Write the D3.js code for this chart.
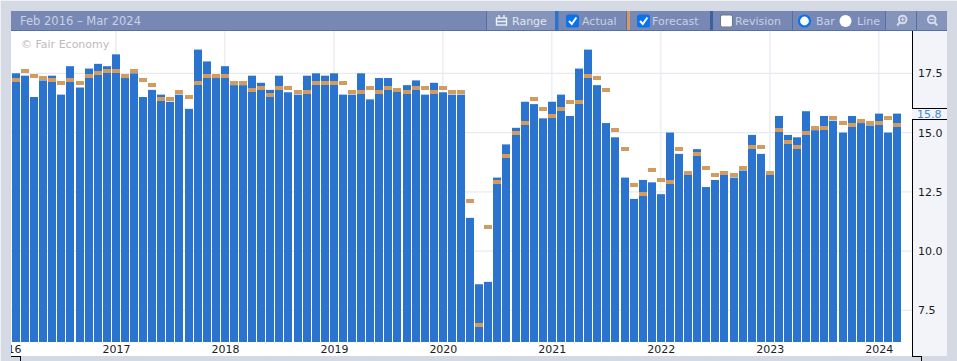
<!DOCTYPE html>
<html>
<head>
<meta charset="utf-8">
<script src="https://d3js.org/d3.v7.min.js"></script>
<style>
    html, body { margin: 0; padding: 0; background: #d5d9e3; overflow: hidden; }
    svg { display: block; }
    text { font-family: "DejaVu Sans", sans-serif; font-size: 11px; }
    .head { fill: #c9d1e5; }
</style>
</head>
<body>
<div id="chart"></div>
<script>
// one entry per month, Feb 2016 to Mar 2024
const actual = [
    17.5, 17.4, 16.5, 17.2, 17.4, 16.6, 17.8, 16.9, 17.7, 17.9, 17.8, 18.3, 17.3, 17.5,
    16.5, 16.8, 16.6, 16.3, 16.6, 16.0, 18.5, 18.0, 17.3, 17.8, 17.0, 17.0, 17.4, 17.1,
    16.8, 17.4, 16.7, 16.6, 17.4, 17.5, 17.4, 17.5, 16.6, 16.6, 17.5, 16.4, 17.3, 17.3,
    16.8, 17.0, 17.2, 16.6, 17.1, 16.7, 16.6, 16.6, 11.4, 8.6, 8.7, 13.1, 14.5, 15.2,
    16.3, 16.2, 15.6, 16.3, 16.6, 15.7, 17.7, 18.5, 17.0, 15.4, 14.8, 13.1, 12.2, 13.0,
    12.9, 12.4, 15.0, 14.1, 13.3, 14.3, 12.7, 13.0, 13.3, 13.1, 13.4, 14.9, 14.1, 13.3,
    15.7, 14.9, 14.8, 15.9, 15.1, 15.7, 15.5, 15.0, 15.7, 15.4, 15.3, 15.8, 15.0, 15.8
];
const forecast = [
    17.2, 17.6, 17.4, 17.3, 17.2, 17.1, 17.2, 17.1, 17.4, 17.5, 17.6, 17.6, 17.4, 17.6,
    17.2, 17.0, 16.4, 16.4, 16.7, 16.5, 17.1, 17.4, 17.4, 17.4, 17.1, 17.1, 16.8, 16.9,
    16.6, 16.9, 16.9, 16.7, 16.7, 17.1, 17.1, 17.1, 17.1, 16.7, 16.7, 16.9, 16.7, 16.9,
    16.8, 16.7, 16.9, 16.9, 16.7, 16.9, 16.7, 16.7, 12.1, 6.9, 11.0, 12.9, 14.0, 15.0,
    15.4, 16.4, 16.0, 15.7, 16.0, 16.3, 16.3, 17.4, 17.3, 16.8, 15.1, 14.3, 12.8, 12.4,
    13.4, 13.0, 12.9, 14.3, 13.3, 14.1, 13.5, 13.2, 13.3, 13.2, 13.5, 14.4, 14.4, 13.3,
    15.1, 14.6, 14.4, 15.0, 15.2, 15.2, 15.6, 15.4, 15.3, 15.5, 15.4, 15.4, 15.6, 15.3
];
const yearLabels = ['2016', '2017', '2018', '2019', '2020', '2021', '2022', '2023', '2024'];
const yearMonths = [-1, 11, 23, 35, 47, 59, 71, 83, 95]; // month index of each January
const valueTicks = [7.5, 10, 12.5, 15, 17.5];
const lastValue = 15.8;

const width = 957, height = 361;
const plotLeft = 11, plotRight = 912, plotTop = 31, plotBottom = 342, frameBottom = 356, frameRight = 947;

const svg = d3.select('#chart').append('svg').attr('width', width).attr('height', height);

const months = d3.range(actual.length);
const x = d3.scaleLinear().domain([0, 97]).range([16, 897]);
const y = d3.scaleLinear().domain([7.5, 17.5]).range([310.3, 73.3]);

// page edge and plot background
svg.append('rect').attr('width', width).attr('height', 1).attr('fill', '#eef0f4');
svg.append('rect').attr('width', 1).attr('height', height).attr('fill', '#eef0f4');
svg.append('rect').attr('x', plotLeft).attr('y', plotTop).attr('width', plotRight - plotLeft).attr('height', frameBottom - plotTop).attr('fill', '#fff');
svg.append('rect').attr('x', plotRight).attr('y', plotTop).attr('width', frameRight - plotRight).attr('height', frameBottom - plotTop).attr('fill', '#f3f4fa');

svg.append('defs').append('clipPath').attr('id', 'plot-clip')
    .append('rect').attr('x', plotLeft).attr('y', plotTop).attr('width', plotRight - plotLeft).attr('height', frameBottom - plotTop);

// grid
const grid = svg.append('g').attr('stroke', '#e8e9f2').attr('stroke-width', 1.2);
grid.selectAll('.gx').data(yearMonths.slice(1)).enter().append('line')
    .attr('x1', d => x(d)).attr('x2', d => x(d))
    .attr('y1', plotTop).attr('y2', plotBottom);
grid.selectAll('.gy').data(valueTicks).enter().append('line')
    .attr('x1', plotLeft).attr('x2', plotRight)
    .attr('y1', d => y(d)).attr('y2', d => y(d));

svg.append('text').attr('x', 21).attr('y', 48).attr('fill', '#bcbcbc').text('© Fair Economy');

// bars
svg.append('g').selectAll('rect').data(months).enter().append('rect')
    .attr('x', i => Math.round(x(i) - 4))
    .attr('width', 8)
    .attr('y', i => y(actual[i]))
    .attr('height', i => plotBottom - y(actual[i]))
    .attr('fill', '#2a74cf');

svg.append('g').selectAll('rect').data(months).enter().append('rect')
    .attr('x', i => Math.round(x(i) - 4))
    .attr('width', 8)
    .attr('y', i => Math.round(y(forecast[i]) - 2))
    .attr('height', 4)
    .attr('fill', '#d49b5e');

// x axis, the 2016 label is cut off by the plot edge
const xAxis = svg.append('g')
    .attr('clip-path', 'url(#plot-clip)')
    .append('g')
    .attr('transform', `translate(0,${plotBottom})`)
    .call(d3.axisBottom(x).tickValues(yearMonths).tickFormat((d, i) => yearLabels[i]).tickSize(0).tickPadding(3));
xAxis.select('.domain').remove();
xAxis.selectAll('text').attr('fill', '#1c1c1c').style('font-size', '11px').style('font-family', '"DejaVu Sans", sans-serif');

// y axis
const yAxis = svg.append('g')
    .attr('transform', `translate(${plotRight},0)`)
    .call(d3.axisRight(y).tickValues(valueTicks).tickFormat(d3.format('.1f')).tickSize(0).tickPadding(6));
yAxis.select('.domain').remove();
yAxis.selectAll('text').attr('fill', '#1c1c1c').style('font-size', '11px').style('font-family', '"DejaVu Sans", sans-serif');

// axis frame, with a gap for the latest value
const frame = svg.append('g').attr('fill', 'none').attr('stroke', '#000').attr('shape-rendering', 'crispEdges');
frame.append('path').attr('d', `M${plotRight + 0.5},${plotTop} V108.5 H${frameRight}`);
frame.append('path').attr('d', `M${frameRight},119.5 H${plotRight + 0.5} V${frameBottom + 0.5} H${plotRight + 9.5} V${height}`);
frame.append('path').attr('d', `M${plotLeft},${frameBottom + 0.5} H20.5 V${height}`);
svg.append('text').attr('x', 917).attr('y', 118).attr('fill', '#3f86d8').text(d3.format('.1f')(lastValue));

// header bar
const header = svg.append('g');
header.append('rect').attr('x', plotLeft).attr('y', 11).attr('width', frameRight - plotLeft).attr('height', 19).attr('fill', '#7688b3');
header.append('rect').attr('x', plotLeft).attr('y', 30).attr('width', frameRight - plotLeft).attr('height', 1).attr('fill', '#5570a8');
header.append('text').attr('class', 'head').attr('x', 20).attr('y', 25).style('font-size', '11.5px').text('Feb 2016 – Mar 2024');

header.append('rect').attr('x', 487).attr('y', 11).attr('width', 68).attr('height', 19).attr('fill', '#8494bb');
header.append('rect').attr('x', 885).attr('y', 11).attr('width', 31).attr('height', 19).attr('fill', '#8494bb');
header.append('rect').attr('x', 917).attr('y', 11).attr('width', 30).attr('height', 19).attr('fill', '#8494bb');

const separators = [[486, 1, '#5570a8'], [555, 3.5, '#2a74cf'], [626, 1, '#5570a8'], [627, 3, '#d49b5e'], [710, 3, '#3f5f9f'], [792, 1, '#5570a8'], [885, 1, '#5570a8'], [916, 1, '#5570a8']];
header.selectAll('.sep').data(separators).enter().append('rect')
    .attr('x', d => d[0]).attr('y', 11).attr('width', d => d[1]).attr('height', 19).attr('fill', d => d[2]);

header.append('text').attr('x', 512).attr('y', 25).attr('fill', '#e2e6f0').text('Range');
header.append('text').attr('class', 'head').attr('x', 582).attr('y', 25).text('Actual');
header.append('text').attr('class', 'head').attr('x', 652).attr('y', 25).text('Forecast');
header.append('text').attr('class', 'head').attr('x', 735).attr('y', 25).text('Revision');
header.append('text').attr('class', 'head').attr('x', 816).attr('y', 25).text('Bar');
header.append('text').attr('class', 'head').attr('x', 857).attr('y', 25).text('Line');

// range icon
const icon = header.append('g').attr('fill', 'none').attr('stroke', '#eef0f6').attr('stroke-width', 1.4);
icon.append('rect').attr('x', 496.5).attr('y', 18).attr('width', 10).attr('height', 7);
icon.append('path').attr('d', 'M496.5,21.5 H506.5 M499,15 V18 M504,15 V18');

// checkboxes
const ticked = [566, 637];
header.selectAll('.box').data(ticked).enter().append('rect')
    .attr('x', d => d).attr('y', 14.5).attr('width', 13).attr('height', 13).attr('rx', 2.5).attr('fill', '#0b72ee');
header.selectAll('.tick').data(ticked).enter().append('path')
    .attr('d', d => `M${d + 3},${21} l2.8,3 l4.6,-6.5`)
    .attr('fill', 'none').attr('stroke', '#fff').attr('stroke-width', 2);
header.append('rect').attr('x', 720.5).attr('y', 15).attr('width', 12).attr('height', 12).attr('rx', 2).attr('fill', '#fff').attr('stroke', '#767676');

// radios
header.append('circle').attr('cx', 804.5).attr('cy', 21).attr('r', 5.5).attr('fill', '#fff').attr('stroke', '#0b72ee').attr('stroke-width', 2.2);
header.append('circle').attr('cx', 845.5).attr('cy', 21).attr('r', 6).attr('fill', '#fff');

// zoom icons, plus handle goes lower left and minus lower right
const glass = header.selectAll('.glass').data([[902.7, -1], [931.7, 1]]).enter().append('g')
    .attr('fill', 'none').attr('stroke', '#d5dbe9').attr('stroke-width', 2);
glass.append('circle').attr('cx', d => d[0]).attr('cy', 19.5).attr('r', 3.8);
glass.append('path').attr('d', d => `M${d[0] + d[1] * 3},22.5 L${d[0] + d[1] * 5.5},25.5`);
glass.append('path').attr('stroke-width', 1.2).attr('d', d => d[1] < 0
    ? `M${d[0] - 2},19.5 H${d[0] + 2} M${d[0]},17.5 V21.5`
    : `M${d[0] - 2},19.5 H${d[0] + 2}`);
</script>
</body>
</html>
